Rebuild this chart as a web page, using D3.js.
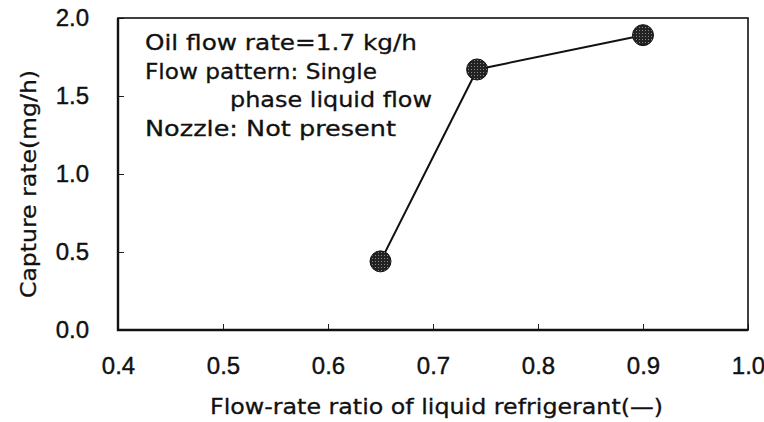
<!DOCTYPE html>
<meta charset="utf-8">
<script src="https://cdn.jsdelivr.net/npm/d3@7/dist/d3.min.js"></script>
<style>
body { margin: 0; background: #fff; }
text { font-family: "DejaVu Sans", sans-serif; fill: #111; stroke: #111; stroke-width: 0.3px; }
.tick text { font-family: "Liberation Sans", Arial, sans-serif; font-size: 24px; stroke-width: 0.4px; }
.note { font-size: 21px; }
.axlabel { font-size: 21px; }
</style>
<body>
<script>
// values
var ratio = [0.650, 0.742, 0.900];
var capture = [0.44, 1.67, 1.89];
var xTicks = [0.4, 0.5, 0.6, 0.7, 0.8, 0.9, 1.0];
var yTicks = [0.0, 0.5, 1.0, 1.5, 2.0];
var notes = ["Oil flow rate=1.7 kg/h", "Flow pattern: Single", "phase liquid flow", "Nozzle: Not present"];

var w = 764, h = 422,
    m = {top: 18, right: 16, bottom: 92, left: 118};

var svg = d3.select("body").append("svg")
    .attr("width", w).attr("height", h);

var x = d3.scaleLinear().domain([0.4, 1.0]).range([m.left, w - m.right]);
var y = d3.scaleLinear().domain([0, 2.0]).range([h - m.bottom, m.top]);

// axes, ticks pointing inward
svg.append("g")
    .attr("transform", "translate(0," + (h - m.bottom) + ")")
    .call(d3.axisBottom(x).tickValues(xTicks).tickFormat(d3.format(".1f")).tickSizeInner(-6).tickSizeOuter(0).tickPadding(27))
    .call(function(g) { g.select(".domain").remove(); g.selectAll("line").attr("stroke", "#222"); });

svg.append("g")
    .attr("transform", "translate(" + m.left + ",0)")
    .call(d3.axisLeft(y).tickValues(yTicks).tickFormat(d3.format(".1f")).tickSizeInner(-6).tickSizeOuter(0).tickPadding(29))
    .call(function(g) { g.select(".domain").remove(); g.selectAll("line").attr("stroke", "#222"); });

svg.selectAll(".tick text").attr("font-family", null).attr("font-size", null);

// frame
svg.append("rect")
    .attr("x", m.left).attr("y", m.top)
    .attr("width", w - m.right - m.left).attr("height", h - m.bottom - m.top)
    .attr("fill", "none").attr("stroke", "#111").attr("stroke-width", 1.6);
svg.append("path")
    .attr("d", "M" + m.left + "," + m.top + "V" + (h - m.bottom) + "H" + (w - m.right))
    .attr("fill", "none").attr("stroke", "#111").attr("stroke-width", 2.4);

// dotted marker fill
var pat = svg.append("defs").append("pattern")
    .attr("id", "dots").attr("width", 3).attr("height", 3).attr("patternUnits", "userSpaceOnUse");
pat.append("rect").attr("width", 3).attr("height", 3).attr("fill", "#222");
pat.append("rect").attr("width", 1).attr("height", 1).attr("fill", "#888");

var pts = ratio.map(function(d, i) { return [d, capture[i]]; });

svg.append("path")
    .datum(pts)
    .attr("fill", "none").attr("stroke", "#111").attr("stroke-width", 2)
    .attr("d", d3.line().x(function(d) { return x(d[0]); }).y(function(d) { return y(d[1]); }));

svg.selectAll(".pt").data(pts).enter().append("circle")
    .attr("class", "pt")
    .attr("cx", function(d) { return x(d[0]); })
    .attr("cy", function(d) { return y(d[1]); })
    .attr("r", 10.5)
    .attr("fill", "url(#dots)").attr("stroke", "#111").attr("stroke-width", 1);

// annotation
var noteX = [145, 145, 230, 145], noteW = [272, 232, 202, 251];
svg.selectAll(".note").data(notes).enter().append("text")
    .attr("class", "note")
    .attr("x", function(d, i) { return noteX[i]; })
    .attr("y", function(d, i) { return 50 + i * 28.5; })
    .attr("textLength", function(d, i) { return noteW[i]; })
    .attr("lengthAdjust", "spacingAndGlyphs")
    .text(function(d) { return d; });

// axis titles
svg.append("text").attr("class", "axlabel")
    .attr("x", 210).attr("y", 414)
    .attr("textLength", 453).attr("lengthAdjust", "spacingAndGlyphs")
    .text("Flow-rate ratio of liquid refrigerant(\u2014)");

svg.append("text").attr("class", "axlabel")
    .attr("text-anchor", "middle")
    .attr("transform", "translate(36,184) rotate(-90)")
    .attr("textLength", 228).attr("lengthAdjust", "spacingAndGlyphs")
    .text("Capture rate(mg/h)");
</script>
</body>
